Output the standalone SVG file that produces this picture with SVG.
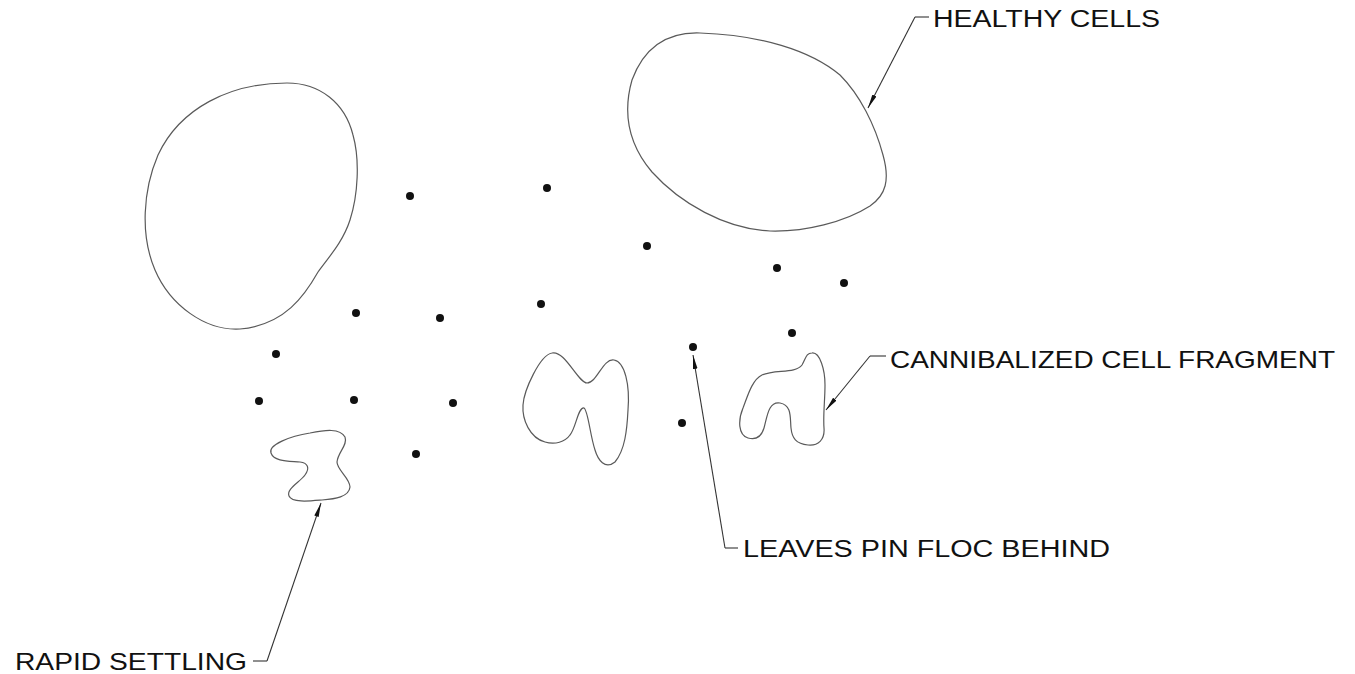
<svg xmlns="http://www.w3.org/2000/svg" width="1355" height="674" viewBox="0 0 1355 674">
  <style>
    .cell { fill: none; stroke: #5a5a5a; stroke-width: 1.2; }
    .floc { fill: #111; }
    .leader { fill: none; stroke: #333; stroke-width: 1.1; }
    .label { font-family: "Liberation Sans", Arial, sans-serif; font-size: 24.5px; fill: #111; }
  </style>
  <defs>
    <marker id="arrow" viewBox="0 -3 14 6" refX="14" refY="0" markerWidth="14" markerHeight="6" markerUnits="userSpaceOnUse" orient="auto">
      <path d="M0,-2.3 L14,0 L0,2.3 Z" fill="#111"/>
    </marker>
  </defs>
  <rect width="1355" height="674" fill="#fff"/>

  <!-- healthy cell, left -->
  <g id="cell-left">
    <path class="cell" d="M 287,83 C 320,83 345,103 353,135 C 360,160 358,195 350,220 C 343,242 328,258 318,272 C 305,295 285,325 240,329 C 205,331 170,305 155,270 C 140,235 143,190 158,155 C 180,108 230,83 287,83 Z"/>
  </g>

  <!-- healthy cell, right -->
  <g id="cell-right">
    <path class="cell" d="M 700,33 C 760,35 810,50 840,75 C 860,95 875,125 883,155 C 890,180 886,195 870,206 C 845,222 805,232 770,231 C 725,229 680,203 652,172 C 630,146 622,115 632,80 C 645,45 670,32 700,33 Z"/>
  </g>

  <!-- settling fragment, lower left -->
  <g id="fragment-settling">
    <path class="cell" d="M 271,453 C 268,445 290,436 310,433 C 325,430 340,428 345,437 C 348,445 338,452 337,462 C 337,470 350,478 350,487 C 349,497 335,499 322,500 C 310,501 292,503 289,496 C 286,489 300,482 305,475 C 310,468 308,463 300,462 C 290,461 274,462 271,453 Z"/>
  </g>

  <!-- fragment, middle -->
  <g id="fragment-middle">
    <path class="cell" d="M 552,353 C 565,350 578,383 587,383 C 597,383 603,358 614,360 C 625,362 630,385 628,410 C 627,430 625,450 615,462 C 605,470 598,460 595,450 C 590,435 588,410 584,408 C 578,407 576,428 570,435 C 565,442 555,445 545,442 C 530,438 522,420 523,405 C 524,390 540,355 552,353 Z"/>
  </g>

  <!-- cannibalized fragment, right -->
  <g id="fragment-cannibalized">
    <path class="cell" d="M 812,353 C 820,352 825,370 825,385 C 825,400 823,415 824,428 C 825,440 818,446 808,445 C 796,444 792,438 791,428 C 790,418 792,405 780,403 C 768,401 767,418 764,428 C 761,438 755,440 748,438 C 738,435 738,420 743,408 C 748,395 752,380 762,375 C 775,369 795,374 802,365 C 806,358 806,353 812,353 Z"/>
  </g>

  <!-- pin floc particles -->
  <g id="pin-floc">
    <circle class="floc" cx="410" cy="196" r="4"/>
    <circle class="floc" cx="547" cy="188" r="4"/>
    <circle class="floc" cx="647" cy="246" r="4"/>
    <circle class="floc" cx="777" cy="268" r="4"/>
    <circle class="floc" cx="844" cy="283" r="4"/>
    <circle class="floc" cx="356" cy="313" r="4"/>
    <circle class="floc" cx="440" cy="318" r="4"/>
    <circle class="floc" cx="541" cy="304" r="4"/>
    <circle class="floc" cx="792" cy="333" r="4"/>
    <circle class="floc" cx="693" cy="347" r="4"/>
    <circle class="floc" cx="276" cy="354" r="4"/>
    <circle class="floc" cx="259" cy="401" r="4"/>
    <circle class="floc" cx="354" cy="400" r="4"/>
    <circle class="floc" cx="453" cy="403" r="4"/>
    <circle class="floc" cx="682" cy="423" r="4"/>
    <circle class="floc" cx="416" cy="454" r="4"/>
  </g>

  <!-- leader lines -->
  <g id="connectors">
    <path class="leader" d="M 929,17 L 915,17"/>
    <path class="leader" d="M 915,17 L 868,108" marker-end="url(#arrow)"/>
    <path class="leader" d="M 886,356 L 870,356"/>
    <path class="leader" d="M 870,356 L 826,410" marker-end="url(#arrow)"/>
    <path class="leader" d="M 738,548 L 725,548"/>
    <path class="leader" d="M 725,548 L 693,355" marker-end="url(#arrow)"/>
    <path class="leader" d="M 253,661 L 267,661"/>
    <path class="leader" d="M 267,661 L 321,503" marker-end="url(#arrow)"/>
  </g>

  <!-- labels -->
  <g id="labels">
    <text class="label" x="933" y="27" textLength="227" lengthAdjust="spacingAndGlyphs">HEALTHY CELLS</text>
    <text class="label" x="890" y="368" textLength="445" lengthAdjust="spacingAndGlyphs">CANNIBALIZED CELL FRAGMENT</text>
    <text class="label" x="743" y="557" textLength="367" lengthAdjust="spacingAndGlyphs">LEAVES PIN FLOC BEHIND</text>
    <text class="label" x="15" y="670" textLength="232" lengthAdjust="spacingAndGlyphs">RAPID SETTLING</text>
  </g>
</svg>
